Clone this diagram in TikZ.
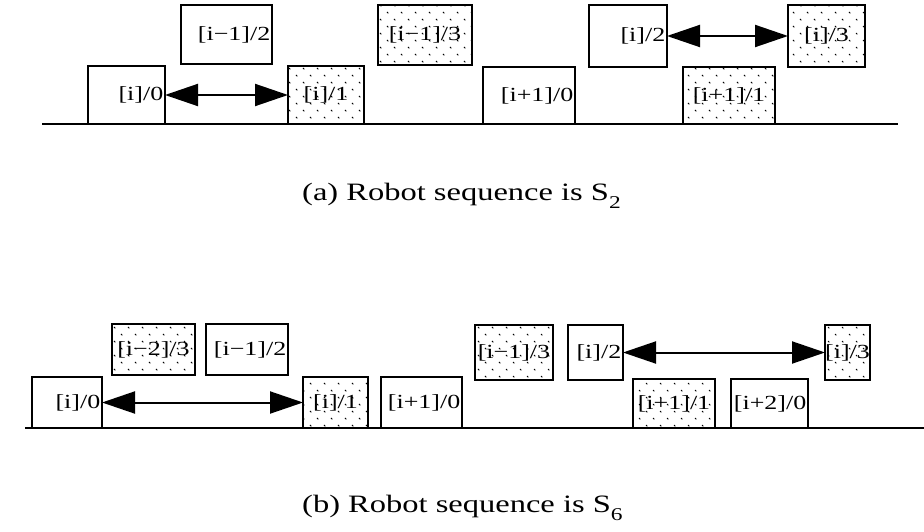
\documentclass[tikz,border=0pt]{standalone}
\usepackage{fontspec}
\setmainfont{Liberation Serif}
\newfontfamily\capfont[FakeStretch=1.3]{Liberation Serif}
\newfontfamily\lblfont[FakeStretch=1.3]{Liberation Serif}
\usetikzlibrary{arrows.meta,patterns}
\pgfdeclarepatternformonly{sparsedots}{\pgfpoint{-1pt}{-1pt}}{\pgfpoint{15pt}{15pt}}{\pgfpoint{14pt}{14pt}}{%
  \pgfsetlinewidth{0.9pt}%
  \pgfpathmoveto{\pgfpoint{2pt}{9pt}}\pgfpathlineto{\pgfpoint{3.3pt}{7.7pt}}%
  \pgfpathmoveto{\pgfpoint{9pt}{2pt}}\pgfpathlineto{\pgfpoint{10.3pt}{0.7pt}}%
  \pgfusepath{stroke}}
\tikzset{
  plainbox/.style={draw, line width=2.4pt, inner sep=0pt, outer sep=0pt, fill=white},
  dotbox/.style={draw, line width=2.4pt, inner sep=0pt, outer sep=0pt, pattern=sparsedots},
  lbl/.style={font=\lblfont\fontsize{20}{20}\selectfont, inner sep=1.5pt},
  captxt/.style={font=\capfont\fontsize{25}{27}\selectfont, inner sep=0pt},
  ground/.style={line width=2.5pt},
  dblarrow/.style={line width=2pt, {Triangle[length=33pt,width=22pt]}-{Triangle[length=33pt,width=22pt]}},
}
% #1 style, #2 name, #3 x1, #4 y1, #5 x2, #6 y2, #7 text, #8 label anchor (east or center)
\newcommand\blk[8]{%
  \node[#1, minimum width={(#5-#3)*1pt}, minimum height={(#6-#4)*1pt}] (#2) at ({(#3+#5)/2},{(#4+#6)/2}) {};
  \node[lbl, anchor=#8] (#2t) at (#2.#8) {#7};
}
\begin{document}
\begin{tikzpicture}[x=1pt,y=-1pt]
\useasboundingbox (0,0) rectangle (924,532);
% ---------- (a) ----------
\coordinate (ga1) at (42,124);
\coordinate (ga2) at (898,124);
\draw[ground] (ga1) -- (ga2);
\blk{plainbox}{A0}{88}{66}{165}{124}{[i]/0}{east}
\blk{plainbox}{A1}{181}{5}{272}{64}{[i−1]/2}{east}
\blk{dotbox}{A2}{288}{66}{364}{124}{[i]/1}{center}
\blk{dotbox}{A3}{378}{5}{472}{65}{[i−1]/3}{center}
\blk{plainbox}{A4}{483}{67}{575}{124}{[i+1]/0}{east}
\blk{plainbox}{A5}{589}{5}{667}{67}{[i]/2}{east}
\blk{dotbox}{A6}{683}{67}{775}{124}{[i+1]/1}{center}
\blk{dotbox}{A7}{788}{5}{865}{67}{[i]/3}{center}
\draw[dblarrow] (A0.east) -- (A2.west);
\draw[dblarrow] (A5.east) -- (A7.west);
\node[captxt, anchor=west] (capa) at (302,196) {(a) Robot sequence is S\raisebox{-0.3em}{\fontsize{18}{18}\selectfont 2}};
% ---------- (b) ----------
\coordinate (gb1) at (25,428);
\coordinate (gb2) at (924,428);
\draw[ground] (gb1) -- (gb2);
\blk{plainbox}{B0}{32}{377}{102}{428}{[i]/0}{east}
\blk{dotbox}{B1}{112}{324}{195}{375}{[i−2]/3}{center}
\blk{plainbox}{B2}{206}{324}{288}{375}{[i−1]/2}{east}
\blk{dotbox}{B3}{303}{377}{368}{428}{[i]/1}{center}
\blk{plainbox}{B4}{381}{377}{462}{428}{[i+1]/0}{east}
\blk{dotbox}{B5}{475}{325}{553}{380}{[i−1]/3}{center}
\blk{plainbox}{B6}{568}{325}{623}{380}{[i]/2}{east}
\blk{dotbox}{B7}{633}{379}{715}{428}{[i+1]/1}{center}
\blk{plainbox}{B8}{731}{379}{808}{428}{[i+2]/0}{east}
\blk{dotbox}{B9}{825}{325}{870}{380}{[i]/3}{center}
\draw[dblarrow] (B0.east) -- (B3.west);
\draw[dblarrow] (B6.east) -- (B9.west);
\node[captxt, anchor=west] (capb) at (302,508) {(b) Robot sequence is S\raisebox{-0.3em}{\fontsize{18}{18}\selectfont 6}};
\end{tikzpicture}
\end{document}
